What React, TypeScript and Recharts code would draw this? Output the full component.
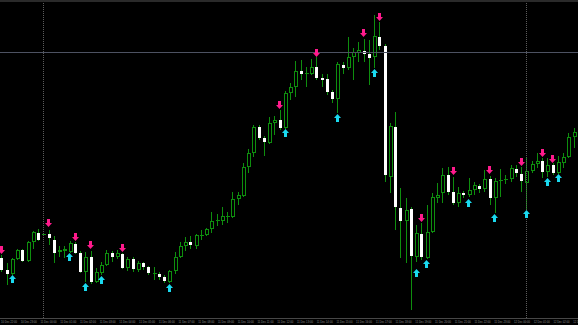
import React from "react";
import { ComposedChart, Bar, Scatter, XAxis, YAxis, ReferenceLine } from "recharts";

// OHLC values (price units), one entry per bar
const opens = [60,48,44,59,68,57,76,85,83,84,78,66,67,66,74,65,46,61,36,45,53,65,61,64,50,59,48,55,51,44,44,41,36,47,61,72,76,72,82,83,89,97,97,101,101,119,122,151,165,191,180,175,195,198,190,225,231,247,244,244,251,240,239,226,219,253,250,261,265,267,264,261,281,272,141,191,110,97,109,61,84,60,86,120,125,143,126,115,125,123,128,132,129,139,120,137,138,139,149,144,135,147,154,157,146,153,145,155,161,181,185];
const highs = [63,55,60,69,69,77,87,89,85,88,82,72,72,77,76,67,66,67,50,56,68,67,68,65,61,61,57,56,52,51,46,43,48,66,76,81,82,84,88,90,106,104,111,106,126,126,155,169,193,193,182,201,202,208,227,235,257,258,251,259,261,244,244,228,256,256,281,270,276,279,278,303,296,274,195,206,130,120,111,93,95,113,125,135,150,151,141,131,127,140,136,134,148,142,140,149,143,153,153,151,161,157,165,160,160,155,162,165,185,190,202];
const lows = [46,33,43,58,56,56,69,77,82,73,55,61,60,65,64,45,36,34,35,43,52,56,59,49,47,46,46,48,43,38,38,35,35,44,60,67,69,69,78,82,85,92,93,95,100,113,121,145,161,178,162,174,183,188,189,218,221,238,231,243,238,231,223,215,205,244,248,238,256,256,233,250,268,136,125,88,60,55,8,56,58,59,85,115,115,123,113,111,120,121,123,125,126,113,105,121,134,136,141,126,108,145,150,140,141,143,144,150,160,170,182];
const closes = [48,44,59,68,57,76,86,78,84,80,65,68,69,75,65,46,61,36,46,53,65,61,65,50,59,49,55,51,45,45,41,37,47,61,72,76,73,83,83,89,97,98,102,102,119,123,151,165,191,180,176,195,198,190,225,231,247,244,245,251,240,238,226,219,254,250,261,266,268,264,260,282,272,143,192,111,97,108,62,85,61,86,121,123,143,126,115,125,123,128,133,129,139,120,137,138,139,150,145,137,147,154,157,146,153,145,156,161,181,186,200];

// signal arrows: bar index and price level
const sellIdx = [0, 9, 14, 17, 23, 53, 60, 69, 72, 80, 86, 93, 99, 103, 105];
const sellPrice = [68, 95, 81, 73, 70, 213, 265, 285, 301, 100, 147, 148, 156, 165, 159];
const buyIdx = [2, 13, 16, 19, 32, 54, 64, 71, 79, 81, 89, 94, 100, 104, 106];
const buyPrice = [39, 61, 31, 38, 30, 185, 200, 245, 45, 54, 115, 100, 104, 136, 140];

// time axis labels
const timeLabels = [
  "10 Dec 22:00", "10 Dec 23:00", "11 Dec 00:00", "11 Dec 01:00", "11 Dec 02:00",
  "11 Dec 03:00", "11 Dec 04:00", "11 Dec 05:00", "11 Dec 06:00", "11 Dec 07:00",
  "11 Dec 08:00", "11 Dec 09:00", "11 Dec 10:00", "11 Dec 11:00", "11 Dec 12:00",
  "11 Dec 13:00", "11 Dec 14:00", "11 Dec 15:00", "11 Dec 16:00", "11 Dec 17:00",
  "11 Dec 18:00", "11 Dec 19:00", "11 Dec 20:00", "11 Dec 21:00", "11 Dec 22:00",
  "11 Dec 23:00", "12 Dec 00:00", "12 Dec 01:00", "12 Dec 02:00", "12 Dec 03:00",
];

// horizontal price level and period separators
const levelPrice = 265.5;
const separatorIdx = [8, 100];

const GREEN = "#0e8e0e";
const PINK = "#ff1a8c";
const CYAN = "#1ad9ef";

const rows = opens.map((o, i) => {
  const s = sellIdx.indexOf(i);
  const b = buyIdx.indexOf(i);
  return {
    idx: i,
    open: o,
    high: highs[i],
    low: lows[i],
    close: closes[i],
    sell: s >= 0 ? sellPrice[s] : null,
    buy: b >= 0 ? buyPrice[b] : null,
  };
});

const BAR_STEP = 5.25;
const tickIdx = timeLabels.map((_, k) => (19.73 * k - 0.5) / BAR_STEP);

function Candle(props: any) {
  const { x, y, width, height, payload } = props;
  if (!payload || !isFinite(x) || !isFinite(y)) return <g />;
  const { open, high, low, close } = payload;
  const range = high - low;
  const yTop = Math.min(y, y + height);
  const hAbs = Math.abs(height);
  const k = range > 0 ? hAbs / range : 0;
  const yOf = (v: number) => Math.round(yTop + (high - v) * k);
  const p = Math.floor(x + width / 2);
  const wx = p + 0.5;
  const top = yOf(Math.max(open, close));
  const bot = yOf(Math.min(open, close));
  const h = Math.max(bot - top, 1);
  const bull = close >= open;
  return (
    <g>
      <line x1={wx} x2={wx} y1={yOf(high)} y2={yOf(low)} stroke={GREEN} strokeWidth={1} />
      {bull ? (
        h <= 1 ? (
          <rect x={p - 1} y={top} width={4} height={1} fill={GREEN} />
        ) : (
          <rect x={p - 0.5} y={top + 0.5} width={3} height={h - 1} fill="#000" stroke={GREEN} strokeWidth={1} />
        )
      ) : (
        <rect x={p - 1} y={top} width={3} height={h} fill="#ffffff" />
      )}
    </g>
  );
}

function SellArrow(props: any) {
  const { cx, cy, payload } = props;
  if (!payload || payload.sell == null || !isFinite(cx) || !isFinite(cy)) return <g />;
  const X = Math.floor(cx) + 0.5;
  const Y = Math.round(cy);
  const pts = [
    [X - 1.5, Y - 4], [X + 1.5, Y - 4], [X + 1.5, Y], [X + 3.5, Y],
    [X, Y + 4], [X - 3.5, Y], [X - 1.5, Y],
  ].map((q) => q.join(",")).join(" ");
  return <polygon points={pts} fill={PINK} />;
}

function BuyArrow(props: any) {
  const { cx, cy, payload } = props;
  if (!payload || payload.buy == null || !isFinite(cx) || !isFinite(cy)) return <g />;
  const X = Math.floor(cx) + 0.5;
  const Y = Math.round(cy);
  const pts = [
    [X - 1.5, Y + 4], [X + 1.5, Y + 4], [X + 1.5, Y], [X + 3.5, Y],
    [X, Y - 4], [X - 3.5, Y], [X - 1.5, Y],
  ].map((q) => q.join(",")).join(" ");
  return <polygon points={pts} fill={CYAN} />;
}

function TimeTick(props: any) {
  const { x, index } = props;
  const label = timeLabels[index];
  if (label == null) return <g />;
  return (
    <text
      x={x}
      y={322.5}
      fontSize={2.6}
      fill="#8c8c8c"
      fontFamily="Liberation Sans"
      textLength={16}
      lengthAdjust="spacingAndGlyphs"
    >
      {label}
    </text>
  );
}

export default function App() {
  return (
    <div
      style={{
        position: "absolute",
        left: 0,
        top: 0,
        width: 578,
        height: 325,
        overflow: "hidden",
        background: "#000",
      }}
    >
      <div style={{ position: "absolute", left: -2, top: 0 }}>
        <ComposedChart
          width={584}
          height={325}
          data={rows}
          margin={{ top: 0, right: 0.375, bottom: 0, left: 0.875 }}
        >
          <XAxis
            dataKey="idx"
            type="number"
            domain={[-0.5, 110.5]}
            allowDataOverflow
            ticks={tickIdx}
            interval={0}
            height={7}
            axisLine={false}
            tickLine={false}
            tick={(p: any) => <TimeTick {...p} />}
          />
          <YAxis hide domain={[0, 318]} allowDataOverflow />
          <ReferenceLine y={levelPrice} stroke="#4d5262" strokeWidth={1} />
          {separatorIdx.map((s) => (
            <ReferenceLine key={s} x={s} stroke="#5c5c5c" strokeWidth={1} strokeDasharray="1 1" />
          ))}
          <ReferenceLine y={-0.5} stroke="#474747" strokeWidth={1} ifOverflow="visible" />
          <Bar
            dataKey={(d: any) => [d.low, d.high]}
            barSize={4}
            shape={(p: any) => <Candle {...p} />}
            isAnimationActive={false}
          />
          <Scatter dataKey="sell" shape={(p: any) => <SellArrow {...p} />} isAnimationActive={false} />
          <Scatter dataKey="buy" shape={(p: any) => <BuyArrow {...p} />} isAnimationActive={false} />
        </ComposedChart>
      </div>
      <div
        style={{
          position: "absolute",
          left: 0,
          top: 0,
          width: 578,
          height: 2,
          background: "#2a2a2a",
        }}
      />
    </div>
  );
}
